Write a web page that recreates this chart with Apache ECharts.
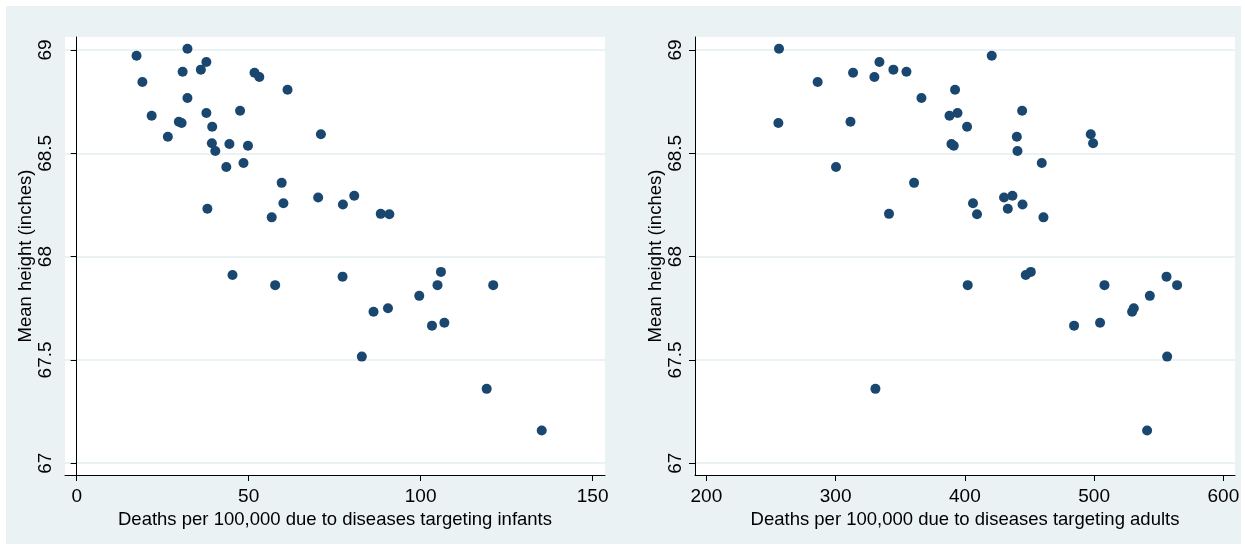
<!DOCTYPE html>
<html>
<head>
<meta charset="utf-8">
<script src="https://cdn.jsdelivr.net/npm/echarts@6/dist/echarts.min.js"></script>
<style>
html,body{margin:0;padding:0;background:#ffffff;}
#chart{width:1245px;height:547px;}
</style>
</head>
<body>
<div id="chart"></div>
<script>
// Mean height (inches) per state, shared by both panels
const heights = [69.006, 68.972, 68.942, 68.905, 68.895, 68.890, 68.869, 68.845, 68.808, 68.768,
  68.706, 68.695, 68.682, 68.653, 68.647, 68.629, 68.592, 68.580, 68.549, 68.545,
  68.537, 68.511, 68.453, 68.434, 68.357, 68.295, 68.286, 68.258, 68.252, 68.232,
  68.207, 68.205, 68.190, 67.926, 67.911, 67.903, 67.862, 67.862, 67.862, 67.810,
  67.750, 67.733, 67.680, 67.666, 67.516, 67.360, 67.158];
// Deaths per 100,000 due to diseases targeting infants
const infantDeaths = [32.2, 17.4, 37.7, 36.1, 30.8, 51.7, 53.1, 19.1, 61.3, 32.2,
  47.5, 37.7, 21.8, 29.7, 30.5, 39.4, 71.0, 26.5, 39.3, 44.4,
  49.8, 40.3, 48.5, 43.5, 59.6, 80.7, 70.2, 60.1, 77.4, 38.0,
  88.4, 90.9, 56.7, 105.9, 45.3, 77.3, 57.7, 104.9, 121.1, 99.6,
  90.5, 86.3, 106.9, 103.3, 82.9, 119.2, 135.2];
// Deaths per 100,000 due to diseases targeting adults
const adultDeaths = [256.2, 420.8, 333.9, 344.7, 354.8, 313.5, 330.0, 286.1, 392.4, 366.4,
  444.3, 394.3, 388.1, 311.5, 255.7, 401.7, 497.4, 440.2, 499.2, 389.6,
  391.4, 440.7, 459.5, 300.3, 360.7, 436.8, 430.3, 406.3, 444.6, 433.2,
  341.3, 409.4, 460.8, 451.0, 447.1, 556.0, 402.2, 508.0, 564.2, 543.1,
  530.7, 529.4, 504.6, 484.5, 556.5, 330.8, 541.0];
const yTicks = [67, 67.5, 68, 68.5, 69];
const xTicksInfant = [0, 50, 100, 150];
const xTicksAdult = [200, 300, 400, 500, 600];
const yTitle = 'Mean height (inches)';
const xTitleInfant = 'Deaths per 100,000 due to diseases targeting infants';
const xTitleAdult = 'Deaths per 100,000 due to diseases targeting adults';

const FONT = '"Liberation Sans", Arial, sans-serif';
const BG = '#eaf2f3';
const DOT = '#1a476f';

function xAxis(idx, min, max, ticks, title) {
  return {
    type: 'value', gridIndex: idx, min: min, max: max,
    name: title, nameLocation: 'middle', nameGap: 30,
    nameTextStyle: {fontFamily: FONT, fontSize: 18.5, color: '#000'},
    axisLine: {show: true, lineStyle: {color: '#000', width: 1}},
    axisTick: {show: true, length: 6, customValues: ticks, lineStyle: {color: '#000'}},
    axisLabel: {customValues: ticks, fontFamily: FONT, fontSize: 19, color: '#000', margin: 12},
    splitLine: {show: false}
  };
}
function yAxis(idx) {
  return {
    type: 'value', gridIndex: idx, min: 66.943, max: 69.063,
    name: yTitle, nameLocation: 'middle', nameGap: 30, nameRotate: 90,
    nameTextStyle: {fontFamily: FONT, fontSize: 18.5, color: '#000'},
    axisLine: {show: true, lineStyle: {color: '#000', width: 1}},
    axisTick: {show: true, length: 6, customValues: yTicks, lineStyle: {color: '#000'}},
    axisLabel: {customValues: yTicks, rotate: 90, fontFamily: FONT, fontSize: 19, color: '#000', margin: 10},
    splitLine: {show: true, lineStyle: {color: BG, width: 2}}
  };
}

const chart = echarts.init(document.getElementById('chart'), null, {renderer: 'canvas'});
chart.setOption({
  animation: false,
  backgroundColor: '#ffffff',
  graphic: [{
    type: 'rect', z: -10, silent: true,
    shape: {x: 6, y: 6, width: 1235, height: 538},
    style: {fill: BG}
  }],
  grid: [
    {left: 65, right: 640, top: 37, bottom: 72, show: true, backgroundColor: '#ffffff', borderWidth: 0},
    {left: 695, right: 10, top: 37, bottom: 72, show: true, backgroundColor: '#ffffff', borderWidth: 0}
  ],
  xAxis: [
    xAxis(0, -3.4, 153.6, xTicksInfant, xTitleInfant),
    xAxis(1, 191.2, 609, xTicksAdult, xTitleAdult)
  ],
  yAxis: [yAxis(0), yAxis(1)],
  series: [
    {
      type: 'scatter', xAxisIndex: 0, yAxisIndex: 0, symbolSize: 10,
      itemStyle: {color: DOT, opacity: 1},
      data: infantDeaths.map((x, i) => [x, heights[i]])
    },
    {
      type: 'scatter', xAxisIndex: 1, yAxisIndex: 1, symbolSize: 10,
      itemStyle: {color: DOT, opacity: 1},
      data: adultDeaths.map((x, i) => [x, heights[i]])
    }
  ]
});
</script>
</body>
</html>
